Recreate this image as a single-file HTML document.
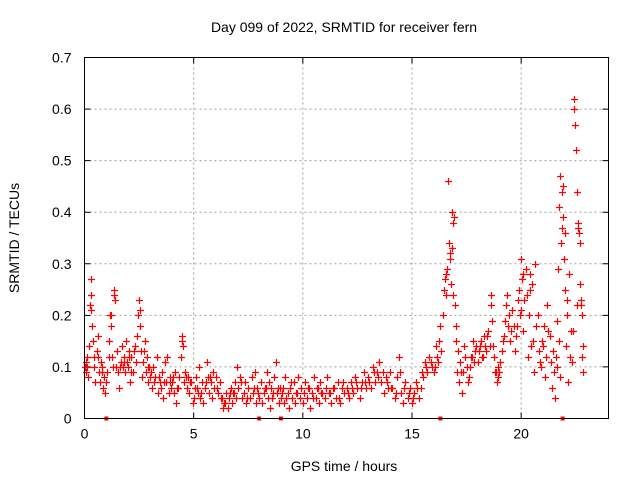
<!DOCTYPE html>
<html><head><meta charset="utf-8"><style>
body{margin:0;background:#fff}
svg{display:block;font-family:"Liberation Sans",sans-serif}
</style></head><body>
<svg id="chart" width="640" height="480">
<rect width="640" height="480" fill="#fff"/>
<text x="344" y="32" font-size="14" text-anchor="middle" fill="#000">Day 099 of 2022, SRMTID for receiver fern</text>
<text x="344" y="471" font-size="14" text-anchor="middle" fill="#000">GPS time / hours</text>
<text transform="translate(19,238) rotate(-90)" font-size="14" text-anchor="middle" fill="#000">SRMTID / TECUs</text>
<g id="grid"></g>
<g id="ticks"></g>
<g id="marks"></g>
<rect x="84.5" y="57.5" width="524" height="361" fill="none" stroke="#000"/>
</svg>
<script>
const xTicks=[0,5,10,15,20];
const yTicks=[0,0.1,0.2,0.3,0.4,0.5,0.6,0.7];
const yTickLabels=["0","0.1","0.2","0.3","0.4","0.5","0.6","0.7"];
const hours=[0,0.05,0.1,0.15,0.2,0.25,0.28,0.3,0.35,0.4,0.45,0.5,0.55,0.6,0.65,0.7,0.75,0.8,0.85,0.9,0.95,
1,1.05,1.1,1.15,1.2,1.25,1.3,1.35,1.4,1.45,1.5,1.55,1.6,1.65,1.7,1.75,1.8,1.85,1.9,1.95,
2,2.05,2.1,2.15,2.2,2.3,2.35,2.4,2.45,2.5,2.55,2.6,2.65,2.7,2.75,2.8,2.85,2.9,2.95,
3,3.1,3.15,3.2,3.3,3.35,3.4,3.5,3.55,3.6,3.7,3.75,3.8,3.85,3.9,3.95,
4,4.1,4.15,4.2,4.3,4.35,4.4,4.45,4.5,4.55,4.6,4.7,4.75,4.8,4.9,4.95,
5,5.05,5.1,5.2,5.25,5.3,5.4,5.45,5.5,5.6,5.65,5.7,5.8,5.85,5.9,5.95,
6,6.1,6.2,6.3,6.35,6.4,6.5,6.55,6.6,6.7,6.75,6.8,6.9,6.95,
7,7.05,7.1,7.2,7.3,7.35,7.4,7.5,7.6,7.65,7.7,7.8,7.85,7.9,
8,8.1,8.15,8.2,8.3,8.35,8.4,8.5,8.55,8.6,8.7,8.75,8.8,8.9,8.95,
9,9.1,9.15,9.2,9.3,9.35,9.4,9.5,9.6,9.65,9.7,9.8,9.85,9.9,
10,10.1,10.2,10.3,10.35,10.4,10.5,10.6,10.7,10.75,10.8,10.9,
11,11.1,11.2,11.3,11.4,11.5,11.6,11.7,11.8,11.9,
12,12.1,12.2,12.3,12.4,12.5,12.6,12.7,12.8,12.9,
13,13.1,13.2,13.3,13.4,13.5,13.6,13.7,13.8,13.9,
14,14.1,14.2,14.3,14.4,14.5,14.6,14.7,14.8,14.9,
15,15.1,15.2,15.3,15.4,15.5,15.6,15.7,15.8,15.9,
16,16.1,16.2,16.3,16.35,16.4,16.5,16.55,16.6,16.65,16.7,16.75,16.8,16.85,16.9,16.95,17,
17.05,17.1,17.15,17.2,17.3,17.35,17.4,17.5,17.6,17.7,17.8,17.9,
18,18.1,18.2,18.3,18.4,18.5,18.6,18.65,18.7,18.8,18.9,18.95,
19,19.1,19.2,19.3,19.4,19.5,19.6,19.7,19.8,19.9,19.95,
20,20.05,20.1,20.15,20.2,20.3,20.35,20.4,20.5,20.55,20.6,20.7,20.8,20.9,
21,21.1,21.2,21.3,21.35,21.4,21.5,21.55,21.6,21.65,21.7,21.75,21.8,21.85,21.9,21.95,
22,22.05,22.1,22.15,22.2,22.3,22.35,22.4,22.42,22.45,22.5,22.55,22.6,22.65,22.7,22.75,22.8,22.85];
const srmtid=[0.10,0.09,0.12,0.08,0.14,0.22,0.27,0.24,0.18,0.15,0.10,0.07,0.13,0.16,0.09,0.07,0.11,0.10,0.06,0.08,0.05,
0.07,0.09,0.15,0.20,0.18,0.12,0.10,0.25,0.23,0.10,0.13,0.09,0.06,0.11,0.14,0.10,0.12,0.09,0.15,0.11,
0.10,0.13,0.07,0.12,0.09,0.14,0.11,0.16,0.20,0.23,0.18,0.13,0.08,0.11,0.15,0.09,0.12,0.07,0.10,
0.08,0.06,0.10,0.07,0.12,0.05,0.08,0.06,0.09,0.04,0.11,0.07,0.12,0.05,0.08,0.06,
0.07,0.05,0.09,0.03,0.06,0.08,0.12,0.16,0.14,0.07,0.09,0.06,0.08,0.05,0.07,0.03,
0.04,0.06,0.08,0.05,0.10,0.04,0.07,0.03,0.06,0.11,0.08,0.05,0.07,0.04,0.09,0.06,
0.08,0.05,0.07,0.04,0.02,0.03,0.05,0.02,0.04,0.06,0.03,0.05,0.07,0.04,
0.10,0.06,0.08,0.04,0.05,0.07,0.03,0.06,0.04,0.08,0.05,0.09,0.03,0.06,
0.04,0.07,0.03,0.05,0.06,0.09,0.04,0.02,0.06,0.04,0.08,0.11,0.05,0.03,0.06,
0.04,0.06,0.03,0.08,0.05,0.02,0.06,0.04,0.07,0.03,0.05,0.08,0.04,0.06,
0.03,0.07,0.04,0.06,0.02,0.05,0.08,0.04,0.06,0.03,0.07,0.05,
0.04,0.08,0.05,0.03,0.06,0.04,0.07,0.03,0.06,0.05,
0.06,0.04,0.07,0.05,0.08,0.06,0.04,0.07,0.09,0.06,
0.08,0.06,0.10,0.07,0.09,0.11,0.07,0.05,0.08,0.06,
0.09,0.06,0.04,0.08,0.12,0.05,0.03,0.07,0.04,0.06,
0.03,0.05,0.07,0.04,0.06,0.08,0.11,0.09,0.12,0.10,
0.09,0.14,0.11,0.18,0.13,0.20,0.27,0.24,0.29,0.46,0.34,0.31,0.26,0.40,0.38,0.22,0.18,
0.09,0.13,0.07,0.11,0.05,0.09,0.14,0.10,0.08,0.12,0.15,0.13,
0.11,0.14,0.12,0.16,0.13,0.17,0.24,0.19,0.14,0.09,0.07,0.10,
0.09,0.13,0.16,0.22,0.18,0.15,0.21,0.13,0.18,0.25,0.20,
0.31,0.27,0.17,0.23,0.29,0.12,0.20,0.28,0.26,0.15,0.09,0.18,0.13,0.10,
0.14,0.08,0.22,0.16,0.11,0.06,0.09,0.04,0.12,0.19,0.29,0.41,0.47,0.37,0.45,0.31,
0.25,0.14,0.20,0.07,0.28,0.17,0.11,0.62,0.60,0.57,0.52,0.44,0.38,0.36,0.26,0.22,0.12,0.09];
const hoursB=[0.07,0.12,0.32,0.42,0.62,0.82,1.12,1.22,1.37,1.62,1.82,2.02,2.12,2.27,2.52,2.72,2.92,3.05,3.25,3.45,3.65,3.92,4.05,4.25,4.47,4.65,4.85,5.15,5.35,5.55,5.75,6.05,6.25,6.45,6.65,6.85,7.15,7.45,7.75,7.95,8.25,8.45,8.65,8.85,9.05,9.25,9.45,9.75,10.05,10.25,10.45,10.65,10.85,11.05,11.25,11.45,11.65,11.85,12.05,12.25,12.45,12.65,12.85,13.05,13.25,13.45,13.65,13.85,14.05,14.25,14.45,14.65,14.85,15.05,15.25,15.45,15.65,15.85,16.05,16.15,16.25,16.45,16.58,16.72,16.82,16.88,16.92,17.02,17.25,17.45,17.55,17.65,17.75,17.85,17.95,18.05,18.15,18.25,18.35,18.45,18.55,18.62,18.75,18.85,18.92,19.05,19.15,19.25,19.35,19.45,19.55,19.65,19.75,19.85,19.98,20.08,20.25,20.42,20.45,20.65,20.75,20.85,20.95,21.05,21.15,21.25,21.45,21.62,21.72,21.78,21.82,21.88,21.92,22.02,22.12,22.25,22.38,22.58,22.62,22.68,22.72,22.78,22.82];
const srmtidB=[0.11,0.10,0.21,0.12,0.12,0.09,0.12,0.20,0.24,0.10,0.11,0.12,0.09,0.13,0.21,0.13,0.10,0.09,0.08,0.07,0.07,0.07,0.08,0.06,0.15,0.08,0.07,0.06,0.05,0.07,0.08,0.06,0.04,0.03,0.05,0.05,0.07,0.04,0.06,0.05,0.06,0.07,0.05,0.06,0.05,0.04,0.07,0.05,0.05,0.06,0.04,0.06,0.05,0.06,0.05,0.06,0.04,0.07,0.05,0.06,0.07,0.06,0.07,0.07,0.09,0.08,0.09,0.07,0.06,0.05,0.09,0.06,0.05,0.04,0.06,0.09,0.10,0.11,0.10,0.12,0.15,0.25,0.28,0.32,0.33,0.24,0.39,0.15,0.09,0.12,0.07,0.10,0.12,0.11,0.14,0.13,0.15,0.12,0.14,0.16,0.14,0.22,0.12,0.09,0.08,0.11,0.15,0.19,0.24,0.20,0.17,0.18,0.16,0.23,0.21,0.28,0.24,0.25,0.14,0.30,0.20,0.11,0.15,0.18,0.12,0.17,0.13,0.10,0.15,0.08,0.34,0.44,0.39,0.36,0.23,0.12,0.17,0.22,0.37,0.34,0.23,0.20,0.14,0.10,0.11];
const zeroHours=[1.0,8.0,9.0,16.3,21.9];
const zeroVals=[0,0,0,0,0];

const X0=84.5,X1=608.5,Y0=418.5,Y1=57.5;
const xScale=h=>X0+(h/24)*(X1-X0);
const yScale=v=>Y0-(v/0.7)*(Y0-Y1);
const NS="http://www.w3.org/2000/svg";
const grid=document.getElementById('grid'),ticks=document.getElementById('ticks'),marks=document.getElementById('marks');
function mk(tag,attrs,parent){const e=document.createElementNS(NS,tag);for(const k in attrs)e.setAttribute(k,attrs[k]);parent.appendChild(e);return e;}
xTicks.forEach(t=>{
  const x=xScale(t);
  if(t>0){const g=mk('line',{x1:x,x2:x,y1:Y1,y2:Y0,stroke:'#a0a0a0','stroke-dasharray':'2,3'},grid);
  
  }
  const tk=mk('path',{d:`M${x},${Y0}v-6M${x},${Y1}v6`,stroke:'#000'},ticks);
  
  
  const tx=mk('text',{x:x,y:Y0+20,'font-size':14,'text-anchor':'middle'},ticks);
  tx.textContent=String(t);
  
  
});
yTicks.forEach((t,i)=>{
  const y=yScale(t);
  if(t>0&&t<0.7){const g=mk('line',{x1:X0,x2:X1,y1:y,y2:y,stroke:'#a0a0a0','stroke-dasharray':'2,3'},grid);
  
  }
  const tk=mk('path',{d:`M${X0},${y}h6M${X1},${y}h-6`,stroke:'#000'},ticks);
  
  
  const tx=mk('text',{x:X0-13,y:y+5,'font-size':14,'text-anchor':'end'},ticks);
  tx.textContent=yTickLabels[i];
  
  
});
function plotSeries(hs,vs,color){
  hs.forEach((h,i)=>{
    const x=Math.round(xScale(h))+0.5,y=Math.round(yScale(vs[i]))+0.5;
    const p=mk('path',{d:`M${x-3.5},${y}h7M${x},${y-3.5}v7`,stroke:color,'stroke-width':1.2},marks);
    
    
  });
}
plotSeries(hoursB,srmtidB,'#f00');
plotSeries(hours,srmtid,'#f00');
zeroHours.forEach((h,i)=>{
  const x=xScale(h),y=yScale(zeroVals[i]);
  const r=mk('rect',{x:x-2,y:y-2,width:4,height:4,fill:'#f00'},marks);
  
  
});
</script>
</body></html>
